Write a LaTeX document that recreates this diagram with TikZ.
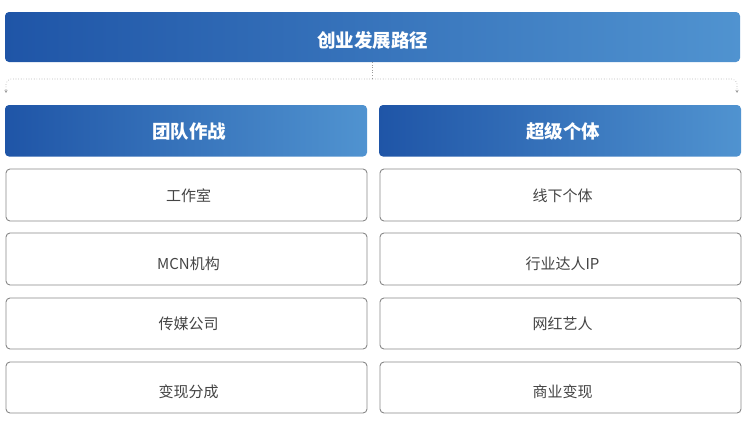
\documentclass[tikz,border=0pt]{standalone}
\usepackage{fontspec}
\setmainfont{Noto Sans CJK SC}
\usetikzlibrary{arrows.meta}
\definecolor{gA}{HTML}{1F55A7}
\definecolor{gB}{HTML}{5093D0}
\definecolor{txt}{HTML}{444444}
\definecolor{bd}{HTML}{888888}
\definecolor{ln}{HTML}{999999}
\tikzset{
  banner/.style={rounded corners=4pt, left color=gA, right color=gB, draw=none},
  bannertext/.style={text=white, font=\fontsize{18.5}{20}\selectfont\bfseries},
  itembox/.style={rounded corners=4pt, draw=bd, line width=0.9pt, fill=white},
  itemtext/.style={text=txt, font=\fontsize{15}{17}\selectfont},
  conn/.style={draw=ln, line width=0.6pt, dotted},
}
\begin{document}
\begin{tikzpicture}[x=1pt,y=-1pt]
\useasboundingbox (0,0) rectangle (748,421);
% top banner
\path[banner] (5,12) rectangle (740,62);
\node[bannertext] (top) at (372.5,40) {创业发展路径};
\coordinate (topS) at (372.5,62);
\coordinate (mid) at (372.5,79);
\coordinate (lc) at (6,79);
\coordinate (rc) at (737,79);
\coordinate (la) at (6,93);
\coordinate (ra) at (737,93);
\draw[conn] (topS) -- (mid);
\draw[conn, rounded corners=5pt, -{Stealth[length=3pt,width=3pt]}] (mid) -- (lc) -- (la);
\draw[conn, rounded corners=5pt, -{Stealth[length=3pt,width=3pt]}] (mid) -- (rc) -- (ra);
% column headers
\path[banner] (5,105) rectangle (367,156.5);
\node[bannertext] (h1) at (189,131.5) {团队作战};
\path[banner] (379,105) rectangle (741,156.5);
\node[bannertext] (h2) at (563,131.5) {超级个体};
% left column items
\draw[itembox] (6,169) rectangle (367,221);
\node[itemtext] (l1) at (188.5,195.5) {工作室};
\draw[itembox] (6,233) rectangle (367,285);
\node[itemtext] (l2) at (188.5,263.5) {MCN机构};
\draw[itembox] (6,298) rectangle (367,349);
\node[itemtext] (l3) at (188.5,323.5) {传媒公司};
\draw[itembox] (6,362) rectangle (367,413);
\node[itemtext] (l4) at (188.5,391.5) {变现分成};
% right column items
\draw[itembox] (380,169) rectangle (741,221);
\node[itemtext] (r1) at (562.5,195.5) {线下个体};
\draw[itembox] (380,233) rectangle (741,285);
\node[itemtext] (r2) at (562.5,263.5) {行业达人IP};
\draw[itembox] (380,298) rectangle (741,349);
\node[itemtext] (r3) at (562.5,323.5) {网红艺人};
\draw[itembox] (380,362) rectangle (741,413);
\node[itemtext] (r4) at (562.5,391.5) {商业变现};
\end{tikzpicture}
\end{document}
